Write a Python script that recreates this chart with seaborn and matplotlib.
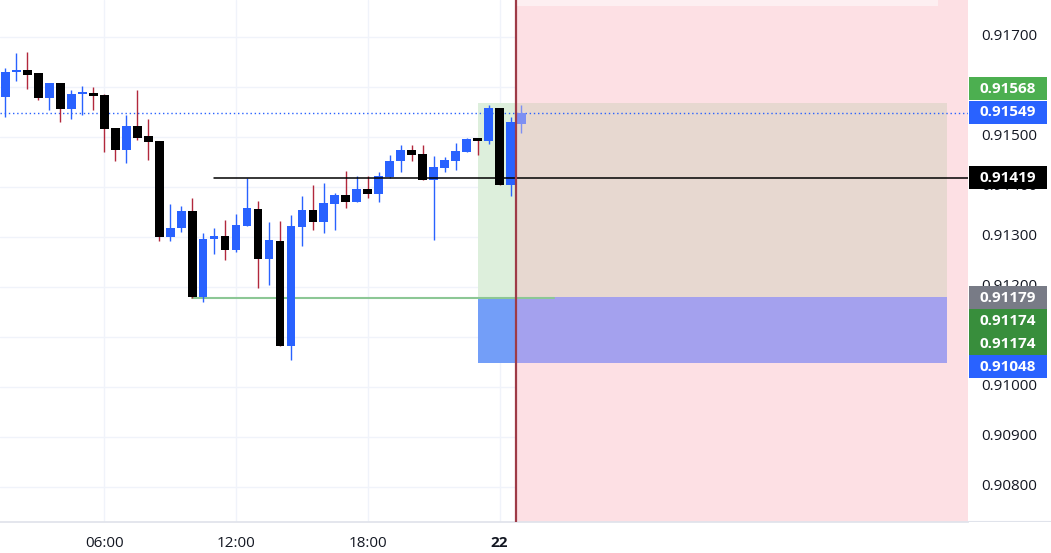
import matplotlib
matplotlib.use("Agg")
import matplotlib.pyplot as plt
from matplotlib.patches import Rectangle
import numpy as np
import pandas as pd
import seaborn as sns

# 30 minute candles, 21st 01:30 -> 22nd 01:00
times = pd.date_range("2023-06-21 01:30", periods=48, freq="30min")

opens = [0.91581, 0.91629, 0.91634, 0.91627, 0.91579, 0.91607, 0.91556, 0.91585, 0.91589, 0.91584,
         0.91518, 0.91475, 0.91522, 0.91502, 0.91492, 0.91301, 0.91317, 0.91352, 0.91180, 0.91295,
         0.91302, 0.91274, 0.91323, 0.91356, 0.91256, 0.91293, 0.91083, 0.91321, 0.91354, 0.91331,
         0.91367, 0.91383, 0.91371, 0.91395, 0.91385, 0.91421, 0.91451, 0.91474, 0.91466, 0.91415,
         0.91438, 0.91452, 0.91471, 0.91497, 0.91493, 0.91559, 0.91405, 0.91527]
closes = [0.91631, 0.91634, 0.91625, 0.91578, 0.91607, 0.91556, 0.91586, 0.91589, 0.91583, 0.91516,
          0.91475, 0.91522, 0.91499, 0.91491, 0.91301, 0.91318, 0.91352, 0.91180, 0.91296, 0.91302,
          0.91274, 0.91324, 0.91358, 0.91256, 0.91293, 0.91083, 0.91323, 0.91354, 0.91331, 0.91367,
          0.91383, 0.91371, 0.91395, 0.91385, 0.91422, 0.91452, 0.91474, 0.91464, 0.91415, 0.91440,
          0.91454, 0.91472, 0.91496, 0.91493, 0.91559, 0.91405, 0.91529, 0.91549]
highs = [0.91638, 0.91669, 0.91671, 0.91627, 0.91609, 0.91609, 0.91594, 0.91603, 0.91601, 0.91587,
         0.91518, 0.91545, 0.91594, 0.91537, 0.91492, 0.91366, 0.91362, 0.91379, 0.91308, 0.91318,
         0.91334, 0.91347, 0.91419, 0.91372, 0.91331, 0.91333, 0.91345, 0.91383, 0.91404, 0.91409,
         0.91388, 0.91433, 0.91422, 0.91422, 0.91429, 0.91465, 0.91484, 0.91484, 0.91484, 0.91462,
         0.91460, 0.91488, 0.91499, 0.91497, 0.91563, 0.91559, 0.91539, 0.91565]
lows = [0.91539, 0.91613, 0.91595, 0.91575, 0.91554, 0.91529, 0.91536, 0.91544, 0.91554, 0.91471,
        0.91452, 0.91449, 0.91494, 0.91454, 0.91293, 0.91292, 0.91311, 0.91179, 0.91171, 0.91267,
        0.91254, 0.91271, 0.91323, 0.91199, 0.91204, 0.91083, 0.91054, 0.91283, 0.91314, 0.91309,
        0.91314, 0.91359, 0.91371, 0.91379, 0.91371, 0.91417, 0.91429, 0.91452, 0.91415, 0.91294,
        0.91431, 0.91434, 0.91471, 0.91464, 0.91487, 0.91405, 0.91383, 0.91509]

last_price = 0.91549
hline_level = 0.91419
entry = 0.91179
target = 0.91568
stop = 0.91048
price_ticks = [0.908, 0.909, 0.910, 0.911, 0.912, 0.913, 0.914, 0.915, 0.916, 0.917]

label_values = [0.91568, 0.91549, 0.91419, 0.91179, 0.91174, 0.91174, 0.91048]
label_colors = ["#4caf50", "#2962ff", "#000000", "#787b86", "#388e3c", "#388e3c", "#2962ff"]
label_shift_px = [-14, 0, 0, 0, 21, 44, 4]  # stacking, like the price scale does

sns.set_theme(style="white")
plt.rcParams["font.family"] = ["Open Sans", "DejaVu Sans"]

W, H = 1051, 553
fig = plt.figure(figsize=(W / 100, H / 100), dpi=100)
ax = fig.add_axes([0, 31 / H, 968 / W, 522 / H])
axr = fig.add_axes([968 / W, 31 / H, 83 / W, 522 / H])

ymin, ymax = 0.9073, 0.91774
px = (ymax - ymin) / 522  # price per pixel
x = np.arange(len(opens))
xmax = 87.67

# grid
ax.set_xlim(-0.5, xmax)
ax.set_ylim(ymin, ymax)
tick_idx = [i for i, t in enumerate(times) if t.minute == 0 and t.hour in (0, 6, 12, 18)]
tick_lab = [str(times[i].day) if times[i].hour == 0 else times[i].strftime("%H:%M") for i in tick_idx]
ax.set_xticks(tick_idx)
ax.set_xticklabels(tick_lab)
ax.set_yticks(price_ticks)
ax.grid(True, color="#f0f3fa", lw=1, zorder=0)
ax.tick_params(axis="y", left=False, labelleft=False)
ax.tick_params(axis="x", length=0, pad=10, labelsize=11, labelcolor="#131722")
for lab in ax.get_xticklabels():
    if lab.get_text() == "22":
        lab.set_fontweight("bold")
sns.despine(ax=ax, left=True, top=True, right=True)
ax.spines["bottom"].set_color("#e0e3eb")

# position tool / future zone
x_vline = 46.5
x_tool0, x_tool1 = 43, 85.8
ax.add_patch(Rectangle((x_vline, ymin), xmax - x_vline, ymax - ymin, color="#fde0e4", lw=0, zorder=1))
ax.add_patch(Rectangle((x_vline, ymax - 6 * px), 84.9 - x_vline, 6 * px, color="#fdeff1", lw=0, zorder=1.1))
ax.add_patch(Rectangle((x_tool0, entry), x_vline - x_tool0, target - entry, color="#ddefdc", lw=0, zorder=1.2))
ax.add_patch(Rectangle((x_vline, entry), x_tool1 - x_vline, target - entry, color="#e7d8d0", lw=0, zorder=1.2))
ax.add_patch(Rectangle((x_tool0, stop), x_vline - x_tool0, entry - stop, color="#739ef8", lw=0, zorder=1.2))
ax.add_patch(Rectangle((x_vline, stop), x_tool1 - x_vline, entry - stop, color="#a4a1ee", lw=0, zorder=1.2))

ax.plot([17, 50], [entry, entry], color="#8cc795", lw=1.5, zorder=2)
ax.plot([19, xmax], [hline_level, hline_level], color="#000000", lw=1.1, zorder=5)
ax.plot([-0.5, xmax], [last_price, last_price], color="#2962ff", lw=1, ls=(0, (1, 2)), zorder=2)

# candles
o, c = np.array(opens), np.array(closes)
up = c >= o
body_col = np.where(up, "#2962ff", "#000000").astype(object)
wick_col = np.where(up, "#2962ff", "#b2283c").astype(object)
body_col[-1] = "#7d8ff2"
wick_col[-1] = "#7d8ff2"
ax.vlines(x, lows, highs, colors=list(wick_col), lw=1, zorder=3)
ax.bar(x, np.maximum(np.abs(c - o), 2 * px), bottom=np.minimum(o, c), width=0.8,
       color=list(body_col), lw=0, zorder=4)

ax.axvline(x_vline, color="#9e3b47", lw=1.6, zorder=6)

# price scale
axr.set_xlim(0, 83)
axr.set_ylim(ymin, ymax)
axr.axis("off")
axr.axhline(ymin, color="#e0e3eb", lw=1.5)
label_centers = [v - sh * px for v, sh in zip(label_values, label_shift_px)]
for t in price_ticks:
    # ticks fully hidden behind a price label are not drawn
    if min(abs(t - yc) for yc in label_centers) < 8 * px:
        continue
    axr.text(41, t, f"{t:.5f}", ha="center", va="center", fontsize=11, color="#131722", zorder=1)
for v, col, yc in zip(label_values, label_colors, label_centers):
    axr.add_patch(Rectangle((1, yc - 11.5 * px), 78, 23 * px, color=col, lw=0, zorder=2))
    axr.text(40, yc, f"{v:.5f}", ha="center", va="center", fontsize=11, fontweight="bold",
             color="white", zorder=3)

fig.savefig("out.png", dpi=100)
